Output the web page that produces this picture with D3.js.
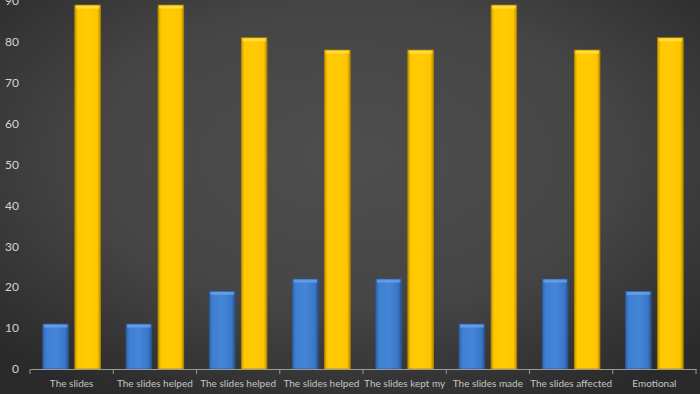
<!DOCTYPE html>
<html>
<head>
<meta charset="utf-8">
<script src="https://cdn.jsdelivr.net/npm/d3@7"></script>
<style>
  body { margin: 0; background: #333; }
  svg { display: block; }
</style>
</head>
<body>
<svg id="chart"></svg>
<script>
const categories = [
  "The slides|engaged me",
  "The slides helped|me understand",
  "The slides helped|me remember",
  "The slides helped|me follow",
  "The slides kept my|attention",
  "The slides made|the topic vivid",
  "The slides affected|my interest",
  "Emotional|impact of slides"
];
const series = ["low", "high"];
const lowValues = [11, 11, 19, 22, 22, 11, 22, 19];
const highValues = [89, 89, 81, 78, 78, 89, 78, 81];
const yTicks = [0, 10, 20, 30, 40, 50, 60, 70, 80, 90];

const W = 700, H = 394;
const margin = { top: 1, right: 4, bottom: 25, left: 30 };
const width = W - margin.left - margin.right;
const height = 369 - margin.top;

const svg = d3.select("#chart").attr("width", W).attr("height", H);

// background and bar gradients
const defs = svg.append("defs");
const bg = defs.append("radialGradient").attr("id", "bg")
    .attr("cx", "50%").attr("cy", "40%").attr("r", "70%");
bg.append("stop").attr("offset", "0%").attr("stop-color", "#4e4e4e");
bg.append("stop").attr("offset", "55%").attr("stop-color", "#454545");
bg.append("stop").attr("offset", "100%").attr("stop-color", "#2a2a2a");

function barGrad(id, stops) {
  const g = defs.append("linearGradient").attr("id", id)
      .attr("x1", "0%").attr("x2", "100%").attr("y1", "0%").attr("y2", "0%");
  stops.forEach(s => g.append("stop").attr("offset", s[0]).attr("stop-color", s[1]));
}
barGrad("blueGrad", [["0%", "#2f63ab"], ["12%", "#3f7ed0"], ["50%", "#4586d9"], ["88%", "#3a76c6"], ["100%", "#244f8c"]]);
barGrad("yellowGrad", [["0%", "#c99a00"], ["12%", "#ffc800"], ["50%", "#ffcb05"], ["88%", "#ffc400"], ["100%", "#b88c00"]]);

svg.append("rect").attr("width", W).attr("height", H).attr("fill", "url(#bg)");

const g = svg.append("g").attr("transform", `translate(${margin.left},${margin.top})`);

const x0 = d3.scaleBand().domain(categories).range([0, width]).padding(0);
const x1 = d3.scaleBand().domain(series).range([0, x0.bandwidth()])
    .paddingInner(0.2).paddingOuter(0.4);
const y = d3.scaleLinear().domain([0, 90]).range([height, 0]);

// y axis labels
g.selectAll(".ylab")
    .data(yTicks)
  .enter().append("text")
    .attr("class", "ylab")
    .attr("x", -11)
    .attr("y", d => y(d))
    .attr("dy", "0.35em")
    .attr("text-anchor", "end")
    .attr("fill", "#d4d4d4")
    .style("font-family", "Lato, 'Open Sans', sans-serif")
    .style("font-size", "12px")
    .text(d => d);

const rows = categories.map((c, i) => ({ cat: c, values: [
  { key: "low", value: lowValues[i] },
  { key: "high", value: highValues[i] }
] }));

const groups = g.selectAll(".grp")
    .data(rows)
  .enter().append("g")
    .attr("class", "grp")
    .attr("transform", d => `translate(${x0(d.cat)},0)`);

groups.selectAll("rect")
    .data(d => d.values)
  .enter().append("rect")
    .attr("x", d => x1(d.key))
    .attr("y", d => y(d.value))
    .attr("width", x1.bandwidth())
    .attr("height", d => height - y(d.value))
    .attr("fill", d => d.key === "low" ? "url(#blueGrad)" : "url(#yellowGrad)")
    .attr("stroke", d => d.key === "low" ? "#2a5a9c" : "#b58a00")
    .attr("stroke-width", 0.8);

// top bevel highlight
groups.selectAll(".cap")
    .data(d => d.values)
  .enter().append("rect")
    .attr("class", "cap")
    .attr("x", d => x1(d.key) + 1)
    .attr("y", d => y(d.value) + 0.5)
    .attr("width", x1.bandwidth() - 2)
    .attr("height", 3)
    .attr("fill", d => d.key === "low" ? "#6aa3ea" : "#ffe04a")
    .attr("opacity", 0.8);

// x axis
const xAxis = d3.axisBottom(x0)
    .tickValues([])
    .tickSizeOuter(0);
const xg = g.append("g").attr("transform", `translate(0,${height})`).call(xAxis);
xg.select(".domain").attr("stroke", "#9a9a9a");

// tick marks at category boundaries
const bounds = categories.map(c => x0(c)).concat([width]);
xg.selectAll(".bt")
    .data(bounds)
  .enter().append("line")
    .attr("class", "bt")
    .attr("x1", d => d).attr("x2", d => d)
    .attr("y1", 0).attr("y2", 5)
    .attr("stroke", "#9a9a9a");

const labels = xg.selectAll(".xlab")
    .data(categories)
  .enter().append("text")
    .attr("class", "xlab")
    .attr("x", d => x0(d) + x0.bandwidth() / 2)
    .attr("y", 18)
    .attr("text-anchor", "middle")
    .attr("fill", "#c4c4c4")
    .style("font-family", "Lato, 'Open Sans', sans-serif")
    .style("font-size", "10px");

labels.each(function(d) {
  const parts = d.split("|");
  const t = d3.select(this);
  parts.forEach((p, i) => {
    t.append("tspan")
      .attr("x", x0(d) + x0.bandwidth() / 2)
      .attr("dy", i === 0 ? 0 : 14)
      .text(p);
  });
});
</script>
</body>
</html>
